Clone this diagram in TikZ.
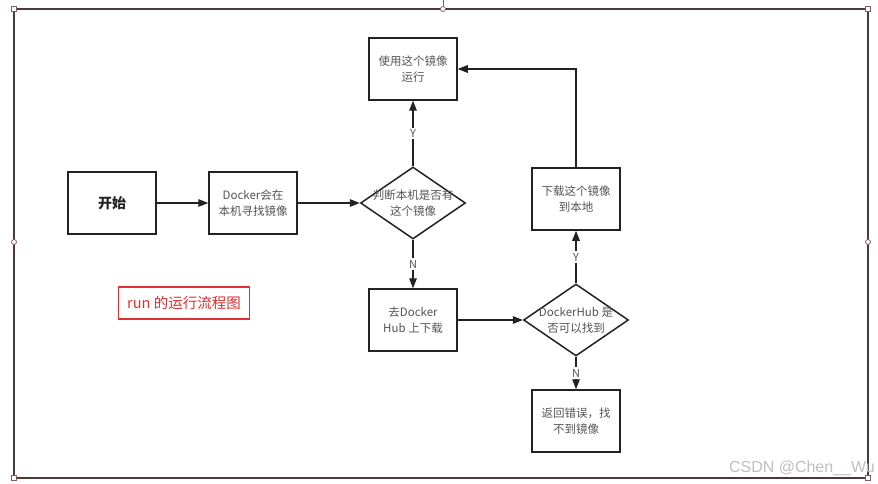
\documentclass[tikz,border=0pt]{standalone}
\usepackage{fontspec}
\setmainfont{Noto Sans CJK SC}
\newfontfamily\wmfont{Liberation Sans}
\usetikzlibrary{shapes.geometric,arrows.meta}
\definecolor{frame}{HTML}{4A3A3A}
\definecolor{handle}{HTML}{8A5A5A}
\definecolor{ink}{HTML}{222222}
\definecolor{txt}{HTML}{555555}
\definecolor{redlbl}{HTML}{E03030}
\begin{document}
\begin{tikzpicture}[x=1pt,y=-1pt,
  box/.style={draw=ink,line width=1.5pt,minimum width=88pt,minimum height=62pt,inner sep=0pt,align=center,font=\fontsize{11.5}{16}\selectfont,text=txt},
  dia/.style={draw=ink,line width=1.5pt,diamond,minimum width=105pt,minimum height=72pt,inner sep=0pt},
  dtext/.style={align=center,font=\fontsize{11.5}{16}\selectfont,text=txt,inner sep=0pt},
  arr/.style={line width=1.4pt,draw=ink,-{Triangle[length=10pt,width=7.5pt]}},
  lbl/.style={fill=white,inner sep=1.5pt,font=\fontsize{11}{12}\selectfont,text=txt},
  hsq/.style={draw=handle,fill=white,line width=0.8pt,rectangle,minimum size=5pt,inner sep=0pt},
  hci/.style={draw=handle,fill=white,line width=0.8pt,circle,minimum size=5pt,inner sep=0pt},
]
\useasboundingbox[fill=white] (0,0) rectangle (878,484);
% outer frame
\draw[frame,line width=1.5pt] (14,9) rectangle (868,478);
\coordinate (topend) at (443,0);
\node[hci] (hT) at (443,9) {};
\draw[handle,line width=0.8pt] (topend) -- (hT.north);
\node[hsq] (hTL) at (14,9) {};
\node[hsq] (hTR) at (868,9) {};
\node[hci] (hL) at (14,242) {};
\node[hci] (hR) at (868,242) {};
\node[hsq] (hBL) at (14,478) {};
\node[hsq] (hBR) at (868,478) {};

% nodes
\node[box,font=\fontsize{14}{16}\selectfont\bfseries,text=ink] (start) at (112,203) {开始};
\node[box] (local) at (253,203) {Docker会在\\本机寻找镜像};
\node[dia] (d1) at (413,203) {};
\node[dtext] (d1t) at (413,203) {判断本机是否有\\这个镜像};
\node[box] (run) at (413,69) {使用这个镜像\\运行};
\node[box] (hub) at (413,320) {去Docker\\Hub 上下载};
\node[dia] (d2) at (576,320) {};
\node[dtext] (d2t) at (576,320) {DockerHub 是\\否可以找到};
\node[box] (dl) at (576,199) {下载这个镜像\\到本地};
\node[box] (err) at (576,421) {返回错误，找\\不到镜像};

\node[draw=redlbl,line width=1.3pt,text=redlbl,minimum width=131pt,minimum height=32pt,inner sep=0pt,font=\fontsize{14.5}{16}\selectfont] (title) at (184,303) {run 的运行流程图};

\node[text=black!25,font=\wmfont\fontsize{16}{18}\selectfont,anchor=east,inner sep=0pt] (wm) at (875,468) {CSDN @Chen\_\_Wu};

% connectors
\draw[arr] (start.east) -- (local.west);
\draw[arr] (local.east) -- (d1.west);
\draw[arr] (d1.north) -- node[lbl] (y1) {Y} (run.south);
\draw[arr] (d1.south) -- node[lbl] (n1) {N} (hub.north);
\draw[arr] (hub.east) -- (d2.west);
\draw[arr] (d2.north) -- node[lbl] (y2) {Y} (dl.south);
\draw[arr] (d2.south) -- node[lbl] (n2) {N} (err.north);
\draw[arr] (dl.north) |- (run.east);
\end{tikzpicture}
\end{document}
